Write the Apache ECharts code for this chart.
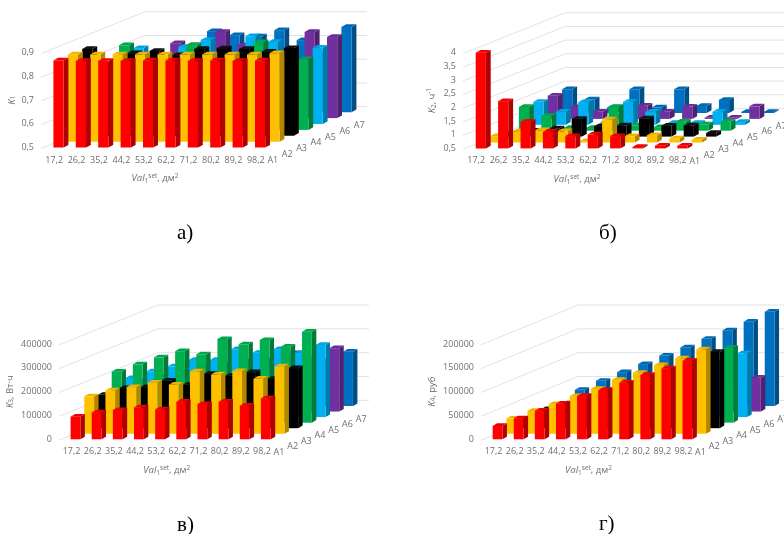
<!DOCTYPE html>
<html><head><meta charset="utf-8">
<style>html,body{margin:0;padding:0;background:#fff}#c{width:784px;height:534px}</style>
<script src="https://cdn.jsdelivr.net/npm/echarts@6/dist/echarts.min.js"></script>
</head><body><div id="c"></div>
<script>
const categories = ['17,2','26,2','35,2','44,2','53,2','62,2','71,2','80,2','89,2','98,2'];
const rowNames = ['A1','A2','A3','A4','A5','A6','A7'];

const k1_A1 = [0.868,0.866,0.866,0.866,0.868,0.868,0.866,0.868,0.866,0.868];
const k1_A2 = [0.868,0.868,0.868,0.868,0.868,0.868,0.868,0.868,0.868,0.873];
const k1_A3 = [0.866,0.800,0.848,0.858,0.840,0.866,0.869,0.866,0.855,0.870];
const k1_A4 = [0.700,0.857,0.790,0.760,0.858,0.700,0.810,0.870,0.750,0.798];
const k1_A5 = [0.700,0.820,0.700,0.825,0.854,0.700,0.870,0.846,0.700,0.822];
const k1_A6 = [0.650,0.650,0.816,0.700,0.863,0.808,0.700,0.700,0.863,0.842];
const k1_A7 = [0.650,0.650,0.700,0.842,0.825,0.820,0.846,0.804,0.750,0.860];

const k2_A1 = [4.00,2.23,1.48,1.11,0.95,1.01,0.95,0.55,0.60,0.60];
const k2_A2 = [0.73,0.91,0.95,0.91,0.55,1.34,0.73,0.77,0.65,0.60];
const k2_A3 = [0.60,0.72,0.80,1.15,0.88,0.91,1.16,0.90,0.91,0.63];
const k2_A4 = [1.37,1.04,0.60,0.60,1.37,0.70,0.63,0.83,0.73,0.83];
const k2_A5 = [1.34,0.98,1.33,0.60,1.34,0.98,0.57,0.57,0.98,0.60];
const k2_A6 = [1.35,0.93,0.76,0.60,0.98,0.76,0.95,0.54,0.54,0.96];
const k2_A7 = [1.37,1.00,0.70,1.37,0.70,1.37,0.76,0.98,0.54,0.54];

const k3_A1 = [95000,113000,123000,134000,126000,158000,148000,158000,141000,172000];
const k3_A2 = [157000,182000,196000,215000,206000,262000,249000,263000,231000,283000];
const k3_A3 = [140000,168000,172000,200000,182000,228000,220000,235000,207000,252000];
const k3_A4 = [214000,245000,274000,300000,287000,351000,329000,347000,319000,382000];
const k3_A5 = [164000,192000,213000,240000,240000,285000,270000,285000,270000,303000];
const k3_A6 = [130000,150000,170000,190000,180000,214000,200000,245000,215000,266000];
const k3_A7 = [120000,140000,160000,175000,165000,195000,185000,200000,190000,228000];

const k4_A1 = [28000,44000,60000,75000,91000,103000,119000,135000,149000,165000];
const k4_A2 = [32000,48000,62000,79000,94000,113000,128000,144000,158000,177000];
const k4_A3 = [20000,40000,52000,66000,80000,94000,108000,122000,136000,160000];
const k4_A4 = [16000,28000,38000,54000,68000,82000,96000,112000,130000,157000];
const k4_A5 = [18000,28000,38000,50000,62000,74000,88000,100000,115000,134000];
const k4_A6 = [12000,18000,24000,30000,36000,42000,50000,56000,62000,71000];
const k4_A7 = [34000,53000,71000,88000,106000,123000,141000,159000,177000,198000];

const ticks1 = [0.5,0.6,0.7,0.8,0.9];
const ticks2 = [0.5,1,1.5,2,2.5,3,3.5,4];
const ticks3 = [0,100000,200000,300000,400000];
const ticks4 = [0,50000,100000,150000,200000];

const rowColors = [
 ['#FF0000','#B00000','#F00000'],
 ['#FFC000','#B38600','#F0B400'],
 ['#000000','#000000','#101010'],
 ['#00B050','#007B38','#00A64B'],
 ['#00B0F0','#007BA8','#00A6E2'],
 ['#7030A0','#4E2270','#692D96'],
 ['#0070C0','#004E86','#0069B4']
];
const textColor = '#6f6f6f';
const font = 'Open Sans';

const panels = [
 {rows:[k1_A1,k1_A2,k1_A3,k1_A4,k1_A5,k1_A6,k1_A7],ticks:ticks1,step:0.1,yName:'{i|K}{s|1}',nameGap:26,
  left:43,width:224,top:52.8,height:94.8,rx:14.4,ry:5.9,ox:4.3,bw:10.2,dw:4.8,dh:2.7,wallX:102,wallY:41,backW:222},
 {rows:[k2_A1,k2_A2,k2_A3,k2_A4,k2_A5,k2_A6,k2_A7],ticks:ticks2,step:0.5,yName:'{i|K}{s|2}, ч{u|-1}',nameGap:27,
  left:465,width:224,top:52.8,height:95.6,rx:14.4,ry:5.9,ox:4.6,bw:10.2,dw:4.8,dh:2.7,wallX:100,wallY:40,backW:222},
 {rows:[k3_A1,k3_A2,k3_A3,k3_A4,k3_A5,k3_A6,k3_A7],ticks:ticks3,step:100000,yName:'{i|K}{s|3}, Вт·ч',nameGap:46,
  left:61,width:211.5,top:344,height:95.3,rx:13.7,ry:5.55,ox:3.9,bw:9.8,dw:4.5,dh:2.6,wallX:97,wallY:39,backW:211},
 {rows:[k4_A1,k4_A2,k4_A3,k4_A4,k4_A5,k4_A6,k4_A7],ticks:ticks4,step:50000,yName:'{i|K}{s|4}, руб',nameGap:46,
  left:483,width:211,top:344,height:95.3,rx:13.7,ry:5.55,ox:4,bw:9.8,dw:4.5,dh:2.6,wallX:95,wallY:39,backW:211}
];

const captions = [['а)',177,223],['б)',599,223],['в)',177,515],['г)',599,514]];

const richBase = {
 i:{fontStyle:'italic',fontSize:9.5,color:textColor,fontFamily:font},
 n:{fontSize:9.5,color:textColor,fontFamily:font},
 s:{fontSize:6.5,color:textColor,fontFamily:font,verticalAlign:'bottom',lineHeight:10},
 u:{fontSize:6.5,color:textColor,fontFamily:font,verticalAlign:'top',lineHeight:12}
};

const grid=[],xAxis=[],yAxis=[],series=[];
panels.forEach((p,pi)=>{
 grid.push({left:p.left,width:p.width,top:p.top,height:p.height,containLabel:false});
 xAxis.push({type:'category',gridIndex:pi,data:categories,
  axisLine:{show:false},axisTick:{show:false},splitLine:{show:false},
  axisLabel:{interval:0,color:textColor,fontSize:9,fontFamily:font,margin:8},
  name:'{i|Val}{s|1}{u|set}{n|, дм}{u|2}',nameLocation:'middle',nameGap:25,
  nameTextStyle:{rich:richBase,fontSize:9.5,color:textColor,fontFamily:font}});
 yAxis.push({type:'value',gridIndex:pi,min:p.ticks[0],max:p.ticks[p.ticks.length-1],interval:p.step,
  axisLine:{show:false},axisTick:{show:false},splitLine:{show:false},
  axisLabel:{color:textColor,fontSize:9,fontFamily:font,margin:9,
   formatter:v=>String(v).replace('.',',')},
  name:p.yName,nameLocation:'middle',nameGap:p.nameGap,
  nameTextStyle:{rich:richBase,fontSize:9.5,color:textColor,fontFamily:font}});

 series.push({type:'custom',xAxisIndex:pi,yAxisIndex:pi,silent:true,z:1,
  data:p.ticks.map(t=>[categories[0],t]),encode:{x:0,y:1},
  renderItem:(params,api)=>{
   const c=api.coord([api.value(0),api.value(1)]);
   const x0=c[0]-api.size([1,0])[0]/2,y0=c[1];
   const x1=x0+p.wallX,y1=y0-p.wallY;
   const st={stroke:'#e3e3e3',lineWidth:1,fill:'none'};
   return {type:'group',children:[
    {type:'line',shape:{x1:x0-2,y1:y0+0.8,x2:x1,y2:y1},style:st},
    {type:'line',shape:{x1:x1,y1:y1,x2:x1+p.backW,y2:y1},style:st}]};
  }});

 for(let r=6;r>=0;r--){
  const vals=p.rows[r],col=rowColors[r];
  series.push({type:'custom',name:rowNames[r],xAxisIndex:pi,yAxisIndex:pi,silent:true,z:2,
   data:vals.map((v,i)=>[categories[i],v]),encode:{x:0,y:1},
   renderItem:(params,api)=>{
    const idx=api.value(0);
    const t=api.coord([idx,api.value(1)]),b=api.coord([idx,p.ticks[0]]);
    const x=t[0]+p.ox+r*p.rx-p.bw/2, x2=x+p.bw;
    const yt=t[1]-r*p.ry, yb=b[1]-r*p.ry;
    const poly=(pts,fill)=>({type:'polygon',shape:{points:pts},style:{fill:fill,stroke:null}});
    return {type:'group',children:[
     poly([[x2,yt],[x2+p.dw,yt-p.dh],[x2+p.dw,yb-p.dh],[x2,yb]],col[1]),
     poly([[x,yt],[x+p.dw,yt-p.dh],[x2+p.dw,yt-p.dh],[x2,yt]],col[2]),
     poly([[x,yt],[x2,yt],[x2,yb],[x,yb]],col[0])]};
   }});
 }

 series.push({type:'custom',xAxisIndex:pi,yAxisIndex:pi,silent:true,z:3,
  data:rowNames.map((n,i)=>[categories[9],p.ticks[0],n,i]),encode:{x:0,y:1},
  renderItem:(params,api)=>{
   const c=api.coord([api.value(0),api.value(1)]);
   const r=api.value(3);
   return {type:'text',x:c[0]+17+r*p.rx,y:c[1]+13-r*p.ry,
    style:{text:rowNames[r],fill:textColor,font:'9px "'+font+'"',textAlign:'center',textVerticalAlign:'middle'}};
  }});
});

const chart=echarts.init(document.getElementById('c'),null,{renderer:'canvas'});
chart.setOption({
 animation:false,backgroundColor:'#fff',
 grid,xAxis,yAxis,series,
 graphic:captions.map(c=>({type:'text',left:c[1],top:c[2],silent:true,
  style:{text:c[0],font:'21px "Liberation Serif"',fill:'#000'}}))
});
</script></body></html>
